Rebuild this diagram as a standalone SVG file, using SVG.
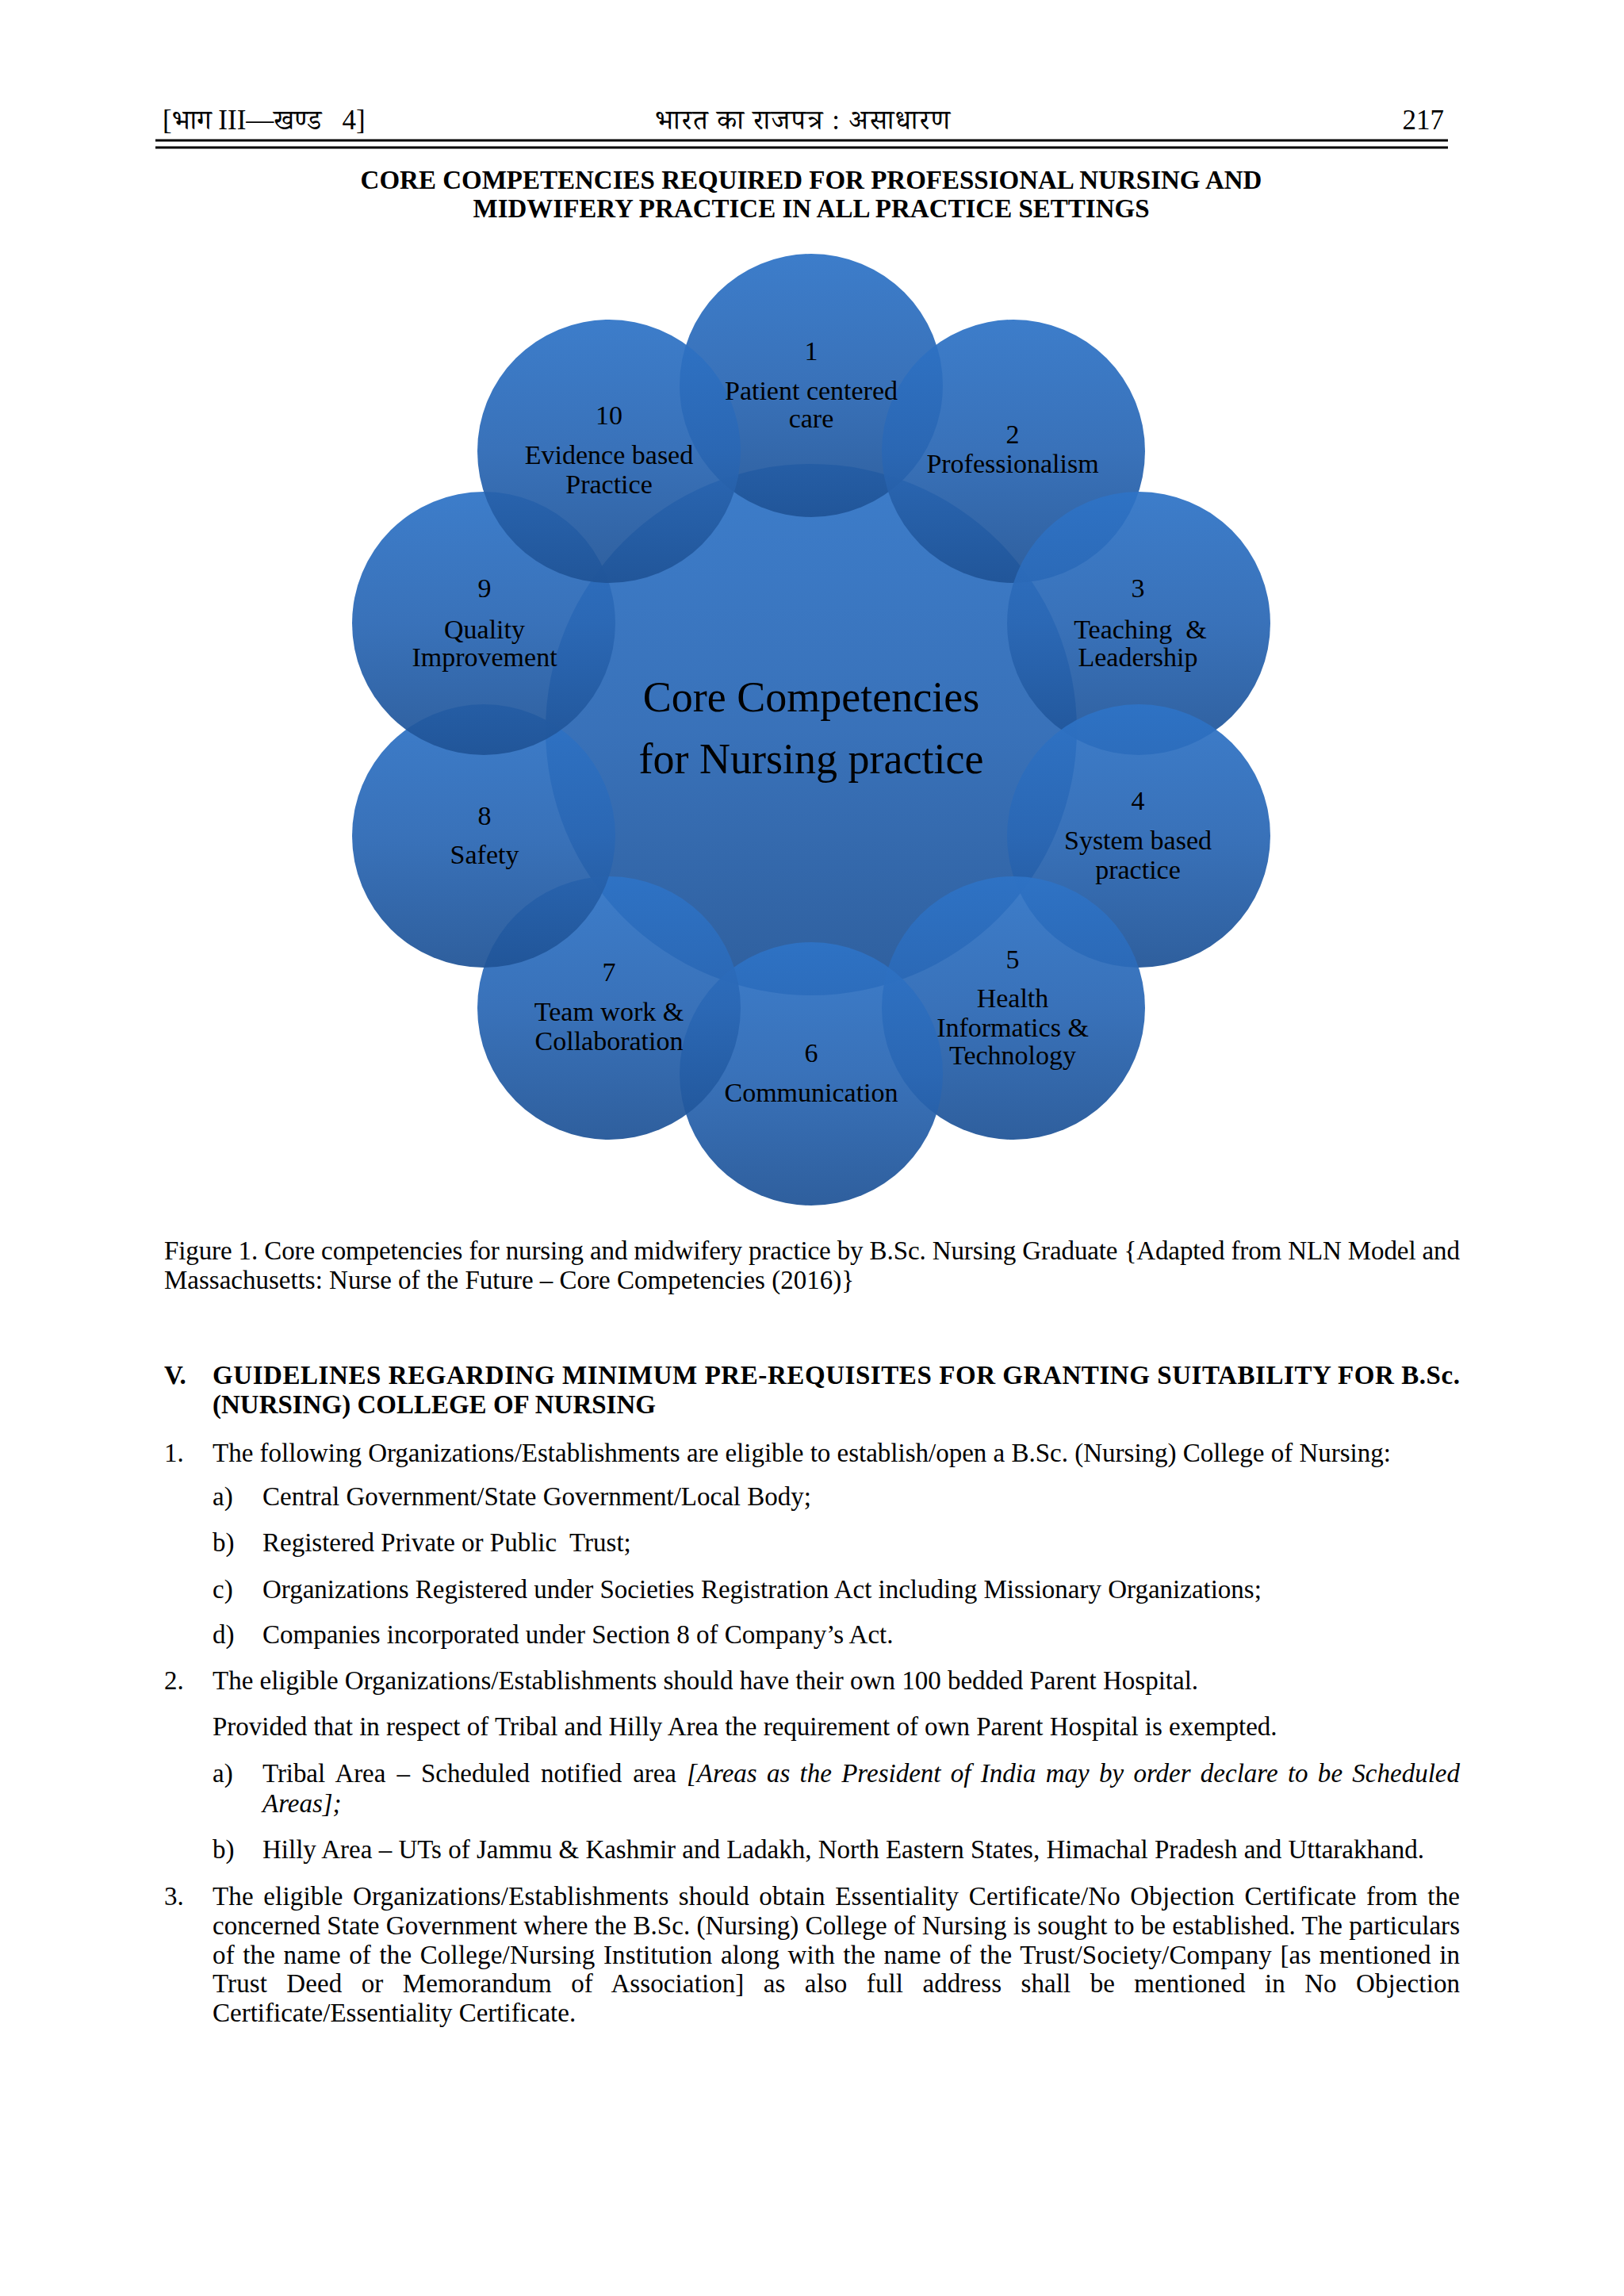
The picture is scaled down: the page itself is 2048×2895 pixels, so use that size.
<svg xmlns="http://www.w3.org/2000/svg" width="2048" height="2895" viewBox="0 0 2048 2895">
<defs>
<linearGradient id="g" x1="0" y1="0" x2="0" y2="1">
<stop offset="0" stop-color="#2e73c6"/>
<stop offset="0.5" stop-color="#2a67b4"/>
<stop offset="1" stop-color="#1f5396"/>
</linearGradient>
<style>
.t{font-family:"Liberation Serif","Times New Roman",serif;font-size:33px;fill:#000}
.b{font-weight:bold}
.i{font-style:italic}
.hd{font-family:"Liberation Serif","Noto Serif Devanagari","Noto Sans Devanagari","Lohit Devanagari",FreeSerif,serif;font-size:35px;fill:#000}
.c{fill:url(#g);fill-opacity:0.93}
.lb{font-family:"Liberation Serif","Times New Roman",serif;font-size:34px;fill:#000;text-anchor:middle}
.ct{font-family:"Liberation Serif","Times New Roman",serif;font-size:54px;fill:#000;text-anchor:middle}
.rule{stroke:#000;stroke-width:3}
</style>
</defs>
<rect width="2048" height="2895" fill="#fff"/>

<g id="header">
<text class="hd" x="205" y="163" xml:space="preserve">[भाग III—खण्ड   4]</text>
<text class="hd" x="1012" y="163" text-anchor="middle" textLength="372" lengthAdjust="spacing">भारत का राजपत्र : असाधारण</text>
<text class="hd" x="1821" y="163" text-anchor="end">217</text>
<line class="rule" x1="196" y1="177" x2="1826" y2="177"/>
<line class="rule" x1="196" y1="186" x2="1826" y2="186"/>
</g>

<g id="title">
<text class="t b" x="1023" y="238" text-anchor="middle">CORE COMPETENCIES REQUIRED FOR PROFESSIONAL NURSING AND</text>
<text class="t b" x="1023" y="274" text-anchor="middle">MIDWIFERY PRACTICE IN ALL PRACTICE SETTINGS</text>
</g>

<g id="connectors"></g>

<g id="diagram">
<g id="center"><circle class="c" cx="1023" cy="920" r="335"/></g>
<g id="n1"><circle class="c" cx="1023" cy="486" r="166"/></g>
<g id="n2"><circle class="c" cx="1278" cy="569" r="166"/></g>
<g id="n3"><circle class="c" cx="1436" cy="786" r="166"/></g>
<g id="n4"><circle class="c" cx="1436" cy="1054" r="166"/></g>
<g id="n5"><circle class="c" cx="1278" cy="1271" r="166"/></g>
<g id="n6"><circle class="c" cx="1023" cy="1354" r="166"/></g>
<g id="n7"><circle class="c" cx="768" cy="1271" r="166"/></g>
<g id="n8"><circle class="c" cx="610" cy="1054" r="166"/></g>
<g id="n9"><circle class="c" cx="610" cy="786" r="166"/></g>
<g id="n10"><circle class="c" cx="768" cy="569" r="166"/></g>
</g>

<g id="labels">
<g id="center-label"><text class="ct" x="1023" y="897">Core Competencies</text><text class="ct" x="1023" y="975">for Nursing practice</text></g>
<g id="n1-label"><text class="lb" x="1023" y="454">1</text><text class="lb" x="1023" y="504">Patient centered</text><text class="lb" x="1023" y="539">care</text></g>
<g id="n2-label"><text class="lb" x="1277" y="559">2</text><text class="lb" x="1277" y="596">Professionalism</text></g>
<g id="n3-label"><text class="lb" x="1435" y="753">3</text><text class="lb" x="1438" y="805" xml:space="preserve">Teaching  &amp;</text><text class="lb" x="1435" y="840">Leadership</text></g>
<g id="n4-label"><text class="lb" x="1435" y="1021">4</text><text class="lb" x="1435" y="1071">System based</text><text class="lb" x="1435" y="1108">practice</text></g>
<g id="n5-label"><text class="lb" x="1277" y="1221">5</text><text class="lb" x="1277" y="1270">Health</text><text class="lb" x="1277" y="1307">Informatics &amp;</text><text class="lb" x="1277" y="1342">Technology</text></g>
<g id="n6-label"><text class="lb" x="1023" y="1339">6</text><text class="lb" x="1023" y="1389">Communication</text></g>
<g id="n7-label"><text class="lb" x="768" y="1237">7</text><text class="lb" x="768" y="1287">Team work &amp;</text><text class="lb" x="768" y="1324">Collaboration</text></g>
<g id="n8-label"><text class="lb" x="611" y="1040">8</text><text class="lb" x="611" y="1089">Safety</text></g>
<g id="n9-label"><text class="lb" x="611" y="753">9</text><text class="lb" x="611" y="805">Quality</text><text class="lb" x="611" y="840">Improvement</text></g>
<g id="n10-label"><text class="lb" x="768" y="535">10</text><text class="lb" x="768" y="585">Evidence based</text><text class="lb" x="768" y="622">Practice</text></g>
</g>

<g id="caption">
<text class="t" x="207" y="1588" textLength="1634" lengthAdjust="spacing">Figure 1. Core competencies for nursing and midwifery practice by B.Sc. Nursing Graduate {Adapted from NLN Model and</text>
<text class="t" x="207" y="1625">Massachusetts: Nurse of the Future – Core Competencies (2016)}</text>
</g>

<g id="body">
<text class="t b" x="207" y="1745">V.</text>
<text class="t b" x="268" y="1745" textLength="1573" lengthAdjust="spacing">GUIDELINES REGARDING MINIMUM PRE-REQUISITES FOR GRANTING SUITABILITY FOR B.Sc.</text>
<text class="t b" x="268" y="1782">(NURSING) COLLEGE OF NURSING</text>

<text class="t" x="207" y="1843">1.</text>
<text class="t" x="268" y="1843">The following Organizations/Establishments are eligible to establish/open a B.Sc. (Nursing) College of Nursing:</text>
<text class="t" x="268" y="1898">a)</text>
<text class="t" x="331" y="1898">Central Government/State Government/Local Body;</text>
<text class="t" x="268" y="1956">b)</text>
<text class="t" x="331" y="1956" xml:space="preserve">Registered Private or Public  Trust;</text>
<text class="t" x="268" y="2015">c)</text>
<text class="t" x="331" y="2015">Organizations Registered under Societies Registration Act including Missionary Organizations;</text>
<text class="t" x="268" y="2072">d)</text>
<text class="t" x="331" y="2072">Companies incorporated under Section 8 of Company’s Act.</text>

<text class="t" x="207" y="2130">2.</text>
<text class="t" x="268" y="2130">The eligible Organizations/Establishments should have their own 100 bedded Parent Hospital.</text>
<text class="t" x="268" y="2188">Provided that in respect of Tribal and Hilly Area the requirement of own Parent Hospital is exempted.</text>
<text class="t" x="268" y="2247">a)</text>
<text class="t" x="331" y="2247" word-spacing="6" textLength="522" lengthAdjust="spacing">Tribal Area – Scheduled notified area</text>
<text class="t i" x="866" y="2247" word-spacing="4" textLength="975" lengthAdjust="spacing">[Areas as the President of India may by order declare to be Scheduled</text>
<text class="t i" x="331" y="2285">Areas];</text>
<text class="t" x="268" y="2343">b)</text>
<text class="t" x="331" y="2343">Hilly Area – UTs of Jammu &amp; Kashmir and Ladakh, North Eastern States, Himachal Pradesh and Uttarakhand.</text>

<text class="t" x="207" y="2402">3.</text>
<text class="t" x="268" y="2402" word-spacing="4" textLength="1573" lengthAdjust="spacing">The eligible Organizations/Establishments should obtain Essentiality Certificate/No Objection Certificate from the</text>
<text class="t" x="268" y="2439" textLength="1573" lengthAdjust="spacing">concerned State Government where the B.Sc. (Nursing) College of Nursing is sought to be established. The particulars</text>
<text class="t" x="268" y="2476" word-spacing="2" textLength="1573" lengthAdjust="spacing">of the name of the College/Nursing Institution along with the name of the Trust/Society/Company [as mentioned in</text>
<text class="t" x="268" y="2512" word-spacing="16" textLength="1573" lengthAdjust="spacing">Trust Deed or Memorandum of Association] as also full address shall be mentioned in No Objection</text>
<text class="t" x="268" y="2549">Certificate/Essentiality Certificate.</text>
</g>
</svg>
